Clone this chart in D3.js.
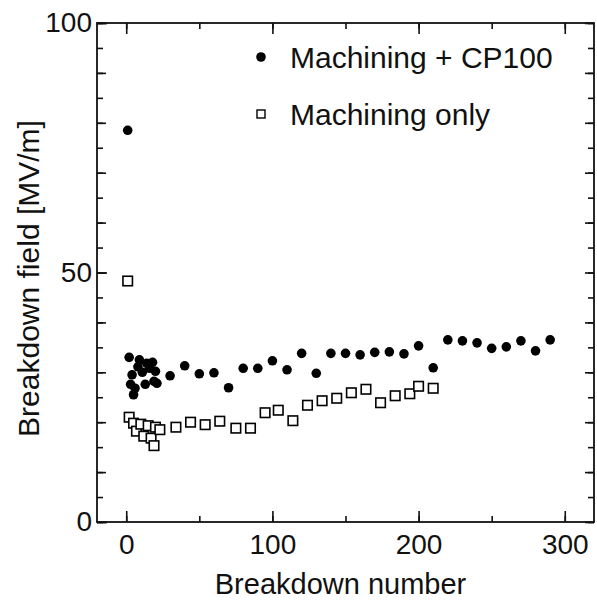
<!DOCTYPE html>
<html>
<head>
<meta charset="utf-8">
<script src="https://cdn.jsdelivr.net/npm/d3@7"></script>
<style>
  body { margin: 0; background: #fff; }
  svg text { font-family: "Liberation Sans", Arial, sans-serif; fill: #111; }
  .axis path { display: none; }
  .axis line { stroke: #111; stroke-width: 1.6px; }
</style>
</head>
<body>
<svg id="chart" width="597" height="608"></svg>
<script>
/* ---------- data ---------- */
const cpX = [1, 2, 3, 4, 5, 6, 8, 9, 11, 13, 14, 16, 18, 19, 20, 21,
  30, 40, 50, 60, 70, 80, 90, 100, 110, 120, 130, 140, 150, 160, 170, 180, 190,
  200, 210, 220, 230, 240, 250, 260, 270, 280, 290];
const cpY = [78.5, 33.0, 27.6, 29.5, 25.5, 26.8, 31.1, 32.5, 30.0, 27.6, 31.8, 30.8, 32.0, 28.2, 30.2, 27.8,
  29.3, 31.3, 29.7, 29.9, 26.9, 30.8, 30.8, 32.3, 30.5, 33.8, 29.8, 33.8, 33.8, 33.5, 34.0, 34.1, 33.7,
  35.3, 30.9, 36.5, 36.3, 35.9, 34.8, 35.1, 36.3, 34.3, 36.5];

const machX = [1, 2, 5, 7, 10, 12, 15, 17, 19, 20, 23,
  34, 44, 54, 64, 75, 85, 95, 104, 114, 124, 134, 144, 154, 164, 174, 184, 194, 200, 210];
const machY = [48.3, 21.0, 19.8, 18.2, 19.6, 17.2, 19.3, 16.8, 15.3, 19.0, 18.5,
  19.0, 20.0, 19.5, 20.2, 18.8, 18.8, 21.9, 22.4, 20.3, 23.4, 24.3, 24.8, 25.9, 26.6, 23.9, 25.3, 25.7, 27.2, 26.8];

const xTickLabels = [0, 100, 200, 300];
const xMinorTicks = [0, 50, 100, 150, 200, 250, 300];
const yTickLabels = [0, 50, 100];
const yMinorTicks = d3.range(0, 101, 5);
const legendLabels = ["Machining + CP100", "Machining only"];

/* ---------- layout ---------- */
const svg = d3.select("#chart");
const plotL = 97, plotR = 594, plotT = 23, plotB = 522;

const xScale = d3.scaleLinear().domain([-20, 320]).range([plotL, plotR]);
const yScale = d3.scaleLinear().domain([0, 100]).range([plotB, plotT]);

/* ---------- axes: inward ticks on all four sides ---------- */
function addAxis(axis, tx, ty) {
  svg.append("g").attr("class", "axis").attr("transform", `translate(${tx},${ty})`).call(axis);
}
// minor ticks
addAxis(d3.axisBottom(xScale).tickValues(xMinorTicks).tickSize(-6).tickFormat(""), 0, plotB);
addAxis(d3.axisTop(xScale).tickValues(xMinorTicks).tickSize(-6).tickFormat(""), 0, plotT);
addAxis(d3.axisLeft(yScale).tickValues(yMinorTicks).tickSize(-6).tickFormat(""), plotL, 0);
addAxis(d3.axisRight(yScale).tickValues(yMinorTicks).tickSize(-6).tickFormat(""), plotR, 0);
// major ticks + labels
const xAxis = d3.axisBottom(xScale).tickValues(xTickLabels).tickSize(-11).tickPadding(12);
const yAxis = d3.axisLeft(yScale).tickValues(yTickLabels).tickSize(-10).tickPadding(5);
svg.append("g").attr("class", "axis x-axis").attr("transform", `translate(0,${plotB})`).call(xAxis);
svg.append("g").attr("class", "axis y-axis").attr("transform", `translate(${plotL},0)`).call(yAxis);
addAxis(d3.axisTop(xScale).tickValues(xTickLabels).tickSize(-11).tickFormat(""), 0, plotT);
addAxis(d3.axisRight(yScale).tickValues(d3.range(0, 101, 10)).tickSize(-9).tickFormat(""), plotR, 0);
addAxis(d3.axisLeft(yScale).tickValues(d3.range(0, 101, 10)).tickSize(-9).tickFormat(""), plotL, 0);

svg.selectAll(".x-axis text, .y-axis text").style("font-size", "28px");

// frame
svg.append("rect")
  .attr("x", plotL).attr("y", plotT)
  .attr("width", plotR - plotL).attr("height", plotB - plotT)
  .attr("fill", "none").attr("stroke", "#111").attr("stroke-width", 1.8);

/* ---------- axis titles ---------- */
svg.append("text")
  .attr("x", (plotL + plotR) / 2 - 5).attr("y", 594)
  .attr("text-anchor", "middle").style("font-size", "29px")
  .text("Breakdown number");

svg.append("text")
  .attr("transform", `translate(28,${(plotT + plotB) / 2 + 6}) rotate(-90)`)
  .attr("dy", "0.35em").attr("text-anchor", "middle").style("font-size", "30px")
  .text("Breakdown field [MV/m]");

/* ---------- points ---------- */
const sq = 9.5;
svg.append("g").selectAll("circle")
  .data(cpX.map((x, i) => [x, cpY[i]]))
  .join("circle")
  .attr("cx", d => xScale(d[0])).attr("cy", d => yScale(d[1]))
  .attr("r", 4.8).attr("fill", "#000");

svg.append("g").selectAll("rect")
  .data(machX.map((x, i) => [x, machY[i]]))
  .join("rect")
  .attr("x", d => xScale(d[0]) - sq / 2).attr("y", d => yScale(d[1]) - sq / 2)
  .attr("width", sq).attr("height", sq)
  .attr("fill", "#fff").attr("stroke", "#000").attr("stroke-width", 1.6);

/* ---------- legend ---------- */
const legend = svg.append("g");
legend.append("circle").attr("cx", 261).attr("cy", 57).attr("r", 4.8).attr("fill", "#000");
legend.append("rect").attr("x", 257).attr("y", 110).attr("width", 8).attr("height", 8)
  .attr("fill", "#fff").attr("stroke", "#000").attr("stroke-width", 1.4);
legend.selectAll("text")
  .data(legendLabels)
  .join("text")
  .attr("x", 290).attr("y", (d, i) => 57 + i * 57)
  .attr("dy", "0.35em").style("font-size", "30px")
  .text(d => d);
</script>
</body>
</html>
